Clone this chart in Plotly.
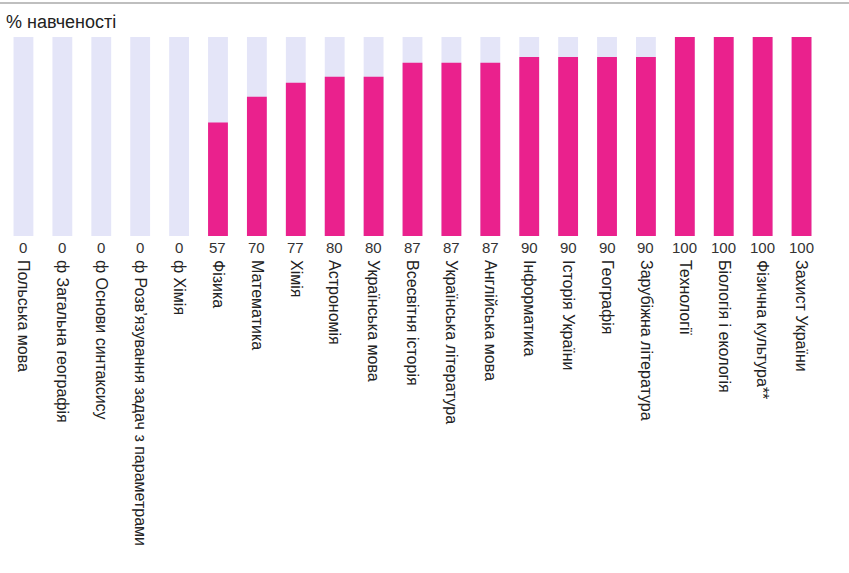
import plotly.graph_objects as go

categories = ["Польська мова", "ф Загальна географія", "ф Основи синтаксису",
              "ф Розв’язування задач з параметрами", "ф Хімія", "Фізика", "Математика",
              "Хімія", "Астрономія", "Українська мова", "Всесвітня історія",
              "Українська література", "Англійська мова", "Інформатика", "Історія України",
              "Географія", "Зарубіжна література", "Технології", "Біологія і екологія",
              "Фізична культура**", "Захист України"]
values = [0, 0, 0, 0, 0, 57, 70, 77, 80, 80, 87, 87, 87, 90, 90, 90, 90, 100, 100, 100, 100]
full = [100] * len(categories)

PINK = "#EA218D"
LAV = "#E4E5F8"
FONT = "Liberation Sans, Arial, sans-serif"

fig = go.Figure()
fig.add_trace(go.Bar(x=categories, y=full, marker=dict(color=LAV, line=dict(width=0)),
                     hoverinfo="skip", showlegend=False))
fig.add_trace(go.Bar(x=categories, y=values, marker=dict(color=PINK, line=dict(width=0)),
                     showlegend=False))

for c, v in zip(categories, values):
    fig.add_annotation(x=c, y=0, yref="y", text=str(v), showarrow=False,
                       yanchor="top", yshift=-1, font=dict(size=15, color="#333333", family=FONT))

fig.add_annotation(xref="paper", yref="paper", x=0.0, y=1.075, xanchor="left",
                   yanchor="middle", text="% навченості", showarrow=False,
                   font=dict(size=18, color="#222222", family=FONT))

fig.add_shape(type="line", xref="paper", yref="paper", x0=-0.01, x1=1.04, y0=1.171, y1=1.171,
              line=dict(color="#AAAAAA", width=1.5))

fig.update_layout(
    width=849, height=573,
    margin=dict(l=4, r=28, t=37, b=337),
    barmode="overlay", bargap=0.49,
    plot_bgcolor="white", paper_bgcolor="white",
    font=dict(family=FONT, size=16, color="#222222"),
    xaxis=dict(tickangle=90, showgrid=False, showline=False, zeroline=False,
               ticks="", ticklabelstandoff=23, range=[-0.5, 20.5],
               tickfont=dict(size=16, color="#222222", family=FONT)),
    yaxis=dict(visible=False, range=[0, 100], showgrid=False),
)

fig.write_html("out.html", config={"displayModeBar": False},
               post_script="document.body.style.margin='0';")
